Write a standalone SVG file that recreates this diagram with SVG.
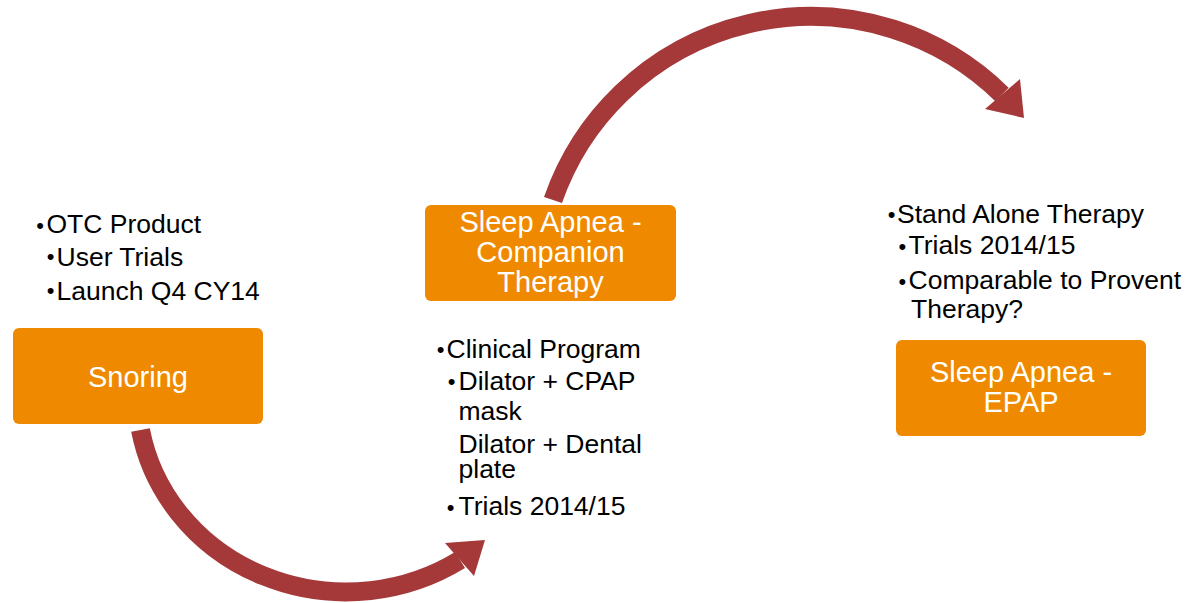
<svg xmlns="http://www.w3.org/2000/svg" width="1194" height="603" viewBox="0 0 1194 603">
<style>
.box{fill:#EF8A00;}
.bt{font-family:"Liberation Sans",Arial,sans-serif;font-size:29px;fill:#FFFFFF;text-anchor:middle;}
.tx{font-family:"Liberation Sans",Arial,sans-serif;font-size:26.5px;fill:#000000;}
.bu{font-family:"Liberation Sans",Arial,sans-serif;font-size:22px;fill:#000000;text-anchor:middle;}
.shaft{fill:none;stroke:#A5393A;stroke-width:19;stroke-linecap:butt;}
.head{fill:#A5393A;}
</style>
<rect width="1194" height="603" fill="#FFFFFF"/>
<g id="connectors">
  <path class="shaft" d="M140.5,430 A209,197.5 0 0 0 460,560"/>
  <polygon class="head" points="445,543 485,540 474,576"/>
  <path class="shaft" d="M553,200 A273,273 0 0 1 1002,94.5"/>
  <polygon class="head" points="1020,79 1024,118 985,109"/>
</g>
<g id="snoring-notes">
  <text class="bu" x="40" y="233">•</text>
  <text class="tx" x="46.5" y="233">OTC Product</text>
  <text class="bu" x="50.5" y="264">•</text>
  <text class="tx" x="56.5" y="266">User Trials</text>
  <text class="bu" x="50.5" y="298">•</text>
  <text class="tx" x="56.5" y="300">Launch Q4 CY14</text>
</g>
<g id="snoring">
  <rect class="box" x="13" y="328" width="250" height="96" rx="6"/>
  <text class="bt" x="138" y="387">Snoring</text>
</g>
<g id="companion">
  <rect class="box" x="425" y="205" width="251" height="96" rx="6"/>
  <text class="bt" x="550.5" y="232">Sleep Apnea -</text>
  <text class="bt" x="550.5" y="262">Companion</text>
  <text class="bt" x="550.5" y="292">Therapy</text>
</g>
<g id="companion-notes">
  <text class="bu" x="440.7" y="357">•</text>
  <text class="tx" x="446.5" y="358">Clinical Program</text>
  <text class="bu" x="451.7" y="389">•</text>
  <text class="tx" x="458.5" y="390">Dilator + CPAP</text>
  <text class="tx" x="458.5" y="420">mask</text>
  <text class="tx" x="458.5" y="453">Dilator + Dental</text>
  <text class="tx" x="458.5" y="478">plate</text>
  <text class="bu" x="450.7" y="515">•</text>
  <text class="tx" x="458.5" y="515">Trials 2014/15</text>
</g>
<g id="epap-notes">
  <text class="bu" x="891.7" y="222">•</text>
  <text class="tx" x="897" y="223">Stand Alone Therapy</text>
  <text class="bu" x="902.3" y="254">•</text>
  <text class="tx" x="908.5" y="254">Trials 2014/15</text>
  <text class="bu" x="902.3" y="289">•</text>
  <text class="tx" x="908.5" y="289">Comparable to Provent</text>
  <text class="tx" x="911" y="318">Therapy?</text>
</g>
<g id="epap">
  <rect class="box" x="896" y="340" width="250" height="96" rx="6"/>
  <text class="bt" x="1021" y="382">Sleep Apnea -</text>
  <text class="bt" x="1021" y="412">EPAP</text>
</g>
</svg>
